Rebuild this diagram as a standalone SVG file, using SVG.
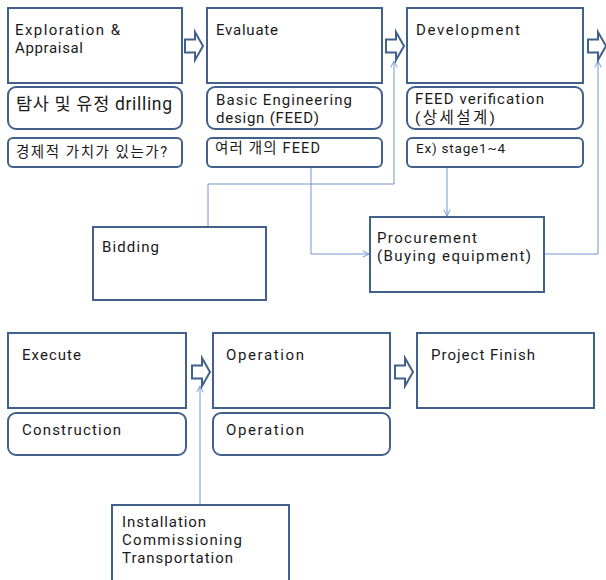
<svg xmlns="http://www.w3.org/2000/svg" width="606" height="580" viewBox="0 0 606 580">
<style>
.box{fill:#fff;stroke:#41618c;stroke-width:2}
.blk{fill:#fff;stroke:#41618c;stroke-width:2;stroke-linejoin:miter}
.con{fill:none;stroke:#7196cf;stroke-width:1}
text{font-family:Roboto,"Noto Sans CJK KR",sans-serif;fill:#1a1a1a;font-size:15px}
.big{font-size:17.5px}
.sm{font-size:13.5px}
.ko{font-size:14.5px}
.ko2{font-size:15.5px}
</style>
<defs>
<marker id="ah" viewBox="0 0 10 10" refX="9" refY="5" markerWidth="8" markerHeight="8" orient="auto" markerUnits="userSpaceOnUse">
<path d="M1,1 L9,5 L1,9" fill="none" stroke="#7196cf" stroke-width="1.2"/>
</marker>
</defs>
<rect width="606" height="580" fill="#fff"/>
<g id="connectors">
<path class="con" d="M208,227 V184 H394 V61" marker-end="url(#ah)"/>
<path class="con" d="M311,167 V254 H369" marker-end="url(#ah)"/>
<path class="con" d="M447,167 V216" marker-end="url(#ah)"/>
<path class="con" d="M545,254 H598 V61" marker-end="url(#ah)"/>
<path class="con" d="M200,505 V386" marker-end="url(#ah)"/>
</g>
<g id="arrows">
<path class="blk" d="M185,39.5 H195 V32 L203,46 L195,60 V52.5 H185 Z"/>
<path class="blk" d="M386,39.5 H396 V32 L404,46 L396,60 V52.5 H386 Z"/>
<path class="blk" d="M588,39.5 H598 V32 L606,46 L598,60 V52.5 H588 Z"/>
<path class="blk" d="M192,365.5 H202 V358 L210,372 L202,386 V378.5 H192 Z"/>
<path class="blk" d="M395,365.5 H405 V358 L413,372 L405,386 V378.5 H395 Z"/>
</g>
<g id="exploration">
<rect class="box" x="8" y="8" width="174" height="75"/>
<text x="15" y="35" textLength="105" lengthAdjust="spacing">Exploration &amp;</text>
<text x="15" y="53" textLength="68" lengthAdjust="spacing">Appraisal</text>
</g>
<g id="drilling">
<rect class="box" x="8" y="87" width="174" height="42" rx="8"/>
<text class="big" x="16" y="110" textLength="156" lengthAdjust="spacing">탐사 및 유정 drilling</text>
</g>
<g id="value">
<rect class="box" x="8" y="138" width="174" height="29" rx="5"/>
<text class="ko" x="16" y="157" textLength="151" lengthAdjust="spacing">경제적 가치가 있는가?</text>
</g>
<g id="evaluate">
<rect class="box" x="207" y="8" width="175" height="75"/>
<text x="216" y="35" textLength="62" lengthAdjust="spacing">Evaluate</text>
</g>
<g id="basic">
<rect class="box" x="207" y="87" width="175" height="42" rx="8"/>
<text x="216" y="104.5" textLength="136" lengthAdjust="spacing">Basic Engineering</text>
<text x="216" y="122.5" textLength="103" lengthAdjust="spacing">design (FEED)</text>
</g>
<g id="feeds">
<rect class="box" x="207" y="138" width="175" height="29" rx="5"/>
<text class="ko" x="215" y="153" textLength="105" lengthAdjust="spacing">여러 개의 FEED</text>
</g>
<g id="development">
<rect class="box" x="407" y="8" width="176" height="75"/>
<text x="416" y="35" textLength="104" lengthAdjust="spacing">Development</text>
</g>
<g id="verification">
<rect class="box" x="407" y="87" width="176" height="42" rx="8"/>
<text x="415" y="104" textLength="129" lengthAdjust="spacing">FEED verification</text>
<text class="ko2" x="415" y="123" textLength="80" lengthAdjust="spacing">(상세설계)</text>
</g>
<g id="stage">
<rect class="box" x="407" y="138" width="176" height="29" rx="5"/>
<text class="sm" x="416" y="153" textLength="89" lengthAdjust="spacing">Ex) stage1~4</text>
</g>
<g id="bidding">
<rect class="box" x="93" y="227" width="173" height="73"/>
<text x="102" y="252" textLength="57" lengthAdjust="spacing">Bidding</text>
</g>
<g id="procurement">
<rect class="box" x="370" y="217" width="174" height="75"/>
<text x="377" y="243" textLength="100" lengthAdjust="spacing">Procurement</text>
<text x="377" y="261" textLength="154" lengthAdjust="spacing">(Buying equipment)</text>
</g>
<g id="execute">
<rect class="box" x="8" y="333" width="178" height="75"/>
<text x="22" y="360" textLength="59" lengthAdjust="spacing">Execute</text>
</g>
<g id="construction">
<rect class="box" x="8" y="413" width="178" height="42" rx="8"/>
<text x="22" y="435" textLength="99" lengthAdjust="spacing">Construction</text>
</g>
<g id="operation">
<rect class="box" x="213" y="333" width="177" height="75"/>
<text x="226" y="360" textLength="78" lengthAdjust="spacing">Operation</text>
</g>
<g id="operation2">
<rect class="box" x="213" y="413" width="177" height="42" rx="8"/>
<text x="226" y="435" textLength="78" lengthAdjust="spacing">Operation</text>
</g>
<g id="finish">
<rect class="box" x="417" y="333" width="177" height="75"/>
<text x="431" y="360" textLength="104" lengthAdjust="spacing">Project Finish</text>
</g>
<g id="installation">
<rect class="box" x="112" y="505" width="177" height="85"/>
<text x="122" y="527" textLength="84" lengthAdjust="spacing">Installation</text>
<text x="122" y="545" textLength="120" lengthAdjust="spacing">Commissioning</text>
<text x="122" y="563" textLength="111" lengthAdjust="spacing">Transportation</text>
</g>
</svg>
